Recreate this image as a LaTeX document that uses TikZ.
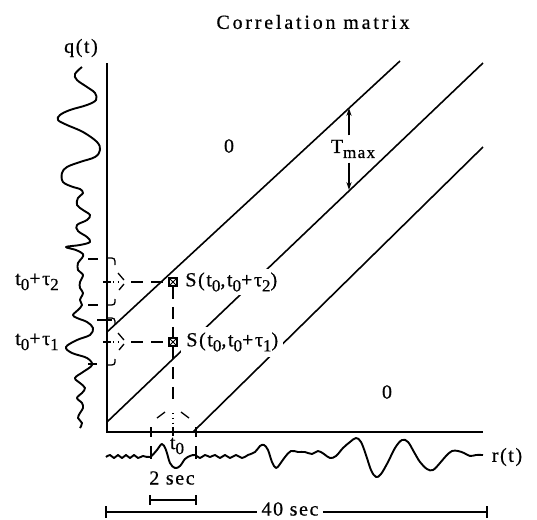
\documentclass[tikz,border=0pt]{standalone}
\usepackage{fontspec}
\setmainfont{Liberation Serif}[LetterSpace=8,FakeBold=0.6]
\usetikzlibrary{arrows.meta}
\newcommand{\subdn}[1]{\raisebox{-0.55ex}{\fontsize{8.5}{9}\selectfont #1}}

\begin{document}
\begin{tikzpicture}[x=0.5pt,y=-0.5pt,
  every node/.style={font=\fontsize{10}{12}\selectfont,inner sep=1pt},
  ax/.style={line width=0.85pt},
  diag/.style={line width=0.8pt},
  wave/.style={line width=0.95pt,line join=round},
  win/.style={line width=0.65pt,dash pattern=on 6pt off 4pt},
  dot/.style={line width=0.65pt,dash pattern=on 0.6pt off 1.8pt},
  tick/.style={line width=0.65pt},
  arr/.style={line width=0.65pt,-{Stealth[length=4pt,width=2.6pt]}},
  sq/.style={draw,line width=0.75pt,fill=white,minimum size=4.2pt,inner sep=0pt,
    path picture={\draw[line width=0.4pt] (path picture bounding box.south west) -- (path picture bounding box.north east)
      (path picture bounding box.north west) -- (path picture bounding box.south east);}}]
\useasboundingbox (0,0) rectangle (537,520);

% axes of the matrix
\coordinate (O) at (107,432);
\draw[ax] (107,63) -- (O) -- (483,432);

% diagonal band
\draw[diag] (107,332) -- (400,61);
\draw[diag] (107,422) -- (483,63);
\draw[diag] (193,432) -- (483,147);

\node[font=\fontsize{10}{12}\addfontfeature{LetterSpace=14}] (title) at (313,22) {Correlation matrix};
\node (qlab) at (81,48) {q(t)};
\node (rlab) at (507,457) {r(t)};
\node (zup) at (229,146) {0};
\node (zlo) at (387,392) {0};

% T_max
\coordinate (tup) at (349,108);
\coordinate (tdn) at (349,190);
\node[inner sep=2pt] (tmax) at (353,149) {T\subdn{max}};
\draw[arr] (tmax.north -| tup) -- (tup);
\draw[arr] (tmax.south -| tdn) -- (tdn);

% q(t)
\draw[wave] plot[smooth,tension=0.6] coordinates {(82,67) (75,74) (77,80) (87,87) (95,93) (96,100) (87,105)
  (70,110) (60,115) (58,120) (67,125) (83,132) (97,142) (100,150) (95,157) (80,162) (67,167) (62,173)
  (63,182) (73,187) (80,189) (83,193) (78,198) (77,205) (83,210) (90,215) (87,220) (77,225) (78,231)
  (87,237) (90,242) (80,245) (66,247) (76,250) (83,254) (82,258) (78,263) (78,270) (83,275) (80,282)
  (80,288) (83,293) (80,300) (82,305) (78,310) (73,315) (77,318) (87,322) (93,328) (90,335) (77,340)
  (66,347) (72,353) (87,358) (92,365) (83,372) (75,378) (80,383) (85,388) (82,393) (77,398) (82,403)
  (83,408) (80,413) (78,418) (82,423) (80,428)};

% r(t)
\draw[wave] plot[smooth,tension=0.6] coordinates {(106,457) (110,455) (114,458) (118,455) (122,458) (126,455)
  (130,458) (134,455) (138,458) (143,456) (150,457) (157,450) (162,444) (166,450) (170,463) (175,468)
  (180,466) (185,459) (190,456) (195,455) (200,458) (205,455) (210,457) (215,455) (220,458) (225,455)
  (230,458) (236,455) (242,458) (248,455) (255,452) (260,446) (264,445) (268,450) (272,462) (276,468)
  (280,464) (285,457) (291,451) (298,452) (305,452) (312,454) (318,451) (324,454) (330,458) (336,456)
  (343,448) (350,442) (356,438) (361,442) (366,455) (371,470) (376,477) (381,474) (388,462) (395,448)
  (402,440) (408,442) (414,452) (420,462) (427,469) (433,470) (440,463) (446,456) (452,451) (458,451)
  (464,453) (470,456) (476,455) (483,455)};

% window marks on q(t)
\draw[tick] (88,259) -- (98,259) (88,305) -- (98,305) (97,320) -- (112,320) (88,364) -- (97,364);
\foreach \L in {282,342}{
  \draw[tick] (103,\L) -- (111,\L);
  \draw[dot] (113,\L) -- (119,\L);
  \draw[tick] (118,{\L-9}) -- (124,{\L-2}) (124,{\L+2}) -- (119,{\L+8});
  \draw[tick] (108,{\L-24}) .. controls (115,{\L-24}) .. (115,{\L-17});
  \draw[tick] (115,{\L+17}) .. controls (115,{\L+23}) .. (108,{\L+23});
}

% window marks on r(t)
\draw[tick] (151,427) -- (151,437) (196,427) -- (196,437) (173,428) -- (173,436);
\draw[tick] (151,446) -- (151,459) (196,446) -- (196,459);
\draw[tick] (157,418) -- (165,412) (181,412) -- (189,418);
\draw[dot] (173,413) -- (173,428);

% sampled points
\node[sq] (s2) at (173,282) {};
\node[sq] (s1) at (173,342) {};
\coordinate (w2) at (131,282);
\coordinate (w1) at (131,342);
\coordinate (wt) at (173,406);
\draw[win] (w2) -- (s2.west);
\draw[win] (w1) -- (s1.west);
\draw[win] (s2.south) -- (s1.north);
\draw[win] (s1.south) -- (wt);

\node[anchor=west,fill=white,inner sep=1.5pt] (l2) at (182,282) {S(t\subdn{0},t\subdn{0}+τ\subdn{2})};
\node[anchor=west,fill=white,inner sep=2.5pt] (l1) at (181,342) {S(t\subdn{0},t\subdn{0}+τ\subdn{1})};
\node (q2) at (37,282) {t\subdn{0}+τ\subdn{2}};
\node (q1) at (37,342) {t\subdn{0}+τ\subdn{1}};
\node (t0) at (177,446) {t\subdn{0}};

% time scales
\node (two) at (172,478) {2 sec};
\coordinate (a2) at (150,500);
\coordinate (b2) at (196,500);
\draw[tick] (a2) -- (b2) (150,495) -- (150,505) (196,495) -- (196,505);
\node[fill=white,inner sep=2pt] (forty) at (290,509) {40 sec};
\coordinate (a40) at (106,512);
\coordinate (b40) at (487,512);
\draw[tick] (a40) -- (a40 -| forty.west) (forty.east |- b40) -- (b40) (106,506) -- (106,518) (487,506) -- (487,518);
\end{tikzpicture}
\end{document}
